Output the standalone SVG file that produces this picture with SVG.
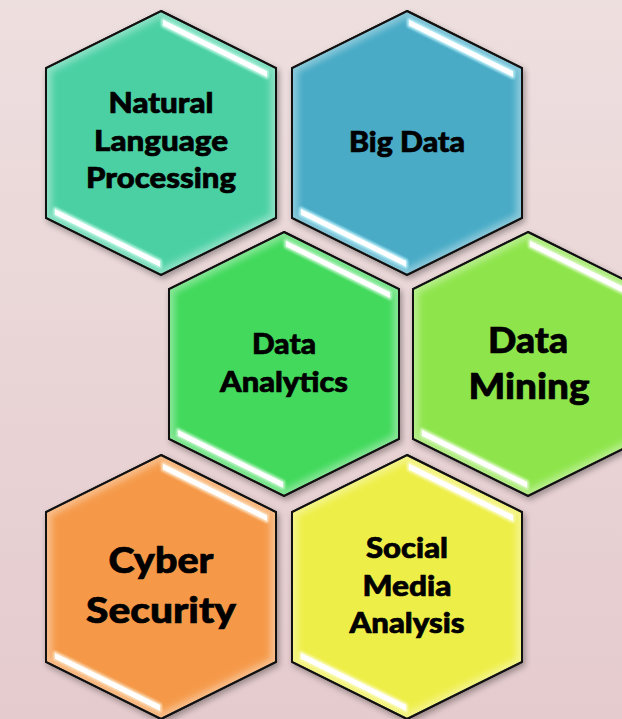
<svg xmlns="http://www.w3.org/2000/svg" width="622" height="719" viewBox="0 0 622 719">
<defs>
  <linearGradient id="bg" x1="0" y1="0" x2="0" y2="1">
    <stop offset="0" stop-color="#EEDFDF"/>
    <stop offset="1" stop-color="#E5CBCD"/>
  </linearGradient>
  <filter id="shadow" x="-20%" y="-20%" width="140%" height="140%">
    <feDropShadow dx="2" dy="3" stdDeviation="3" flood-color="#000" flood-opacity="0.35"/>
  </filter>
  <filter id="soft" x="-20%" y="-20%" width="140%" height="140%">
    <feGaussianBlur stdDeviation="3"/>
  </filter>
  <filter id="glow" x="-20%" y="-50%" width="140%" height="200%">
    <feGaussianBlur stdDeviation="1.2"/>
  </filter>
  <clipPath id="hexclip">
    <polygon points="0,0 115,57 115,207 0,264 -115,207 -115,57"/>
  </clipPath>
  <polygon id="hexshape" points="0,0 115,57 115,207 0,264 -115,207 -115,57"/>
  <polygon id="hlTop" points="2,8.8 106,60.3 106,65.9 2,14.4"/>
  <polygon id="hlBot" points="-106,203.7 -1,255.7 -1,250.1 -106,198.1"/>
</defs>
<style>
  .hex { stroke: #111; stroke-width: 2; stroke-linejoin: miter; }
  .bevel { fill: none; stroke: #fff; stroke-opacity: 0.35; stroke-width: 12; }
  .hl { fill: #fff; }
  .hlg { stroke-width: 4; stroke-linejoin: round; }
  .lbl { font-family: Lato, "Open Sans", "Liberation Sans", sans-serif; font-weight: 900; fill: #000; stroke: #000; stroke-width: 0.7; text-anchor: middle; }
  .s { font-size: 29px; }
  .l { font-size: 36px; }
</style>
<rect width="622" height="719" fill="url(#bg)"/>

<g id="nlp" transform="translate(161,11)">
  <use href="#hexshape" class="hex" fill="#4CD0A4" filter="url(#shadow)"/>
  <use href="#hexshape" class="bevel" clip-path="url(#hexclip)" filter="url(#soft)"/>
  <use href="#hlTop" class="hlg" fill="#B8F5E0" stroke="#B8F5E0" filter="url(#glow)"/>
  <use href="#hlBot" class="hlg" fill="#B8F5E0" stroke="#B8F5E0" filter="url(#glow)"/>
  <use href="#hlTop" class="hl"/>
  <use href="#hlBot" class="hl"/>
  <use href="#hexshape" class="hex" fill="none"/>
  <text class="lbl s" x="0" y="102" textLength="105" lengthAdjust="spacingAndGlyphs">Natural</text>
  <text class="lbl s" x="0" y="140" textLength="134" lengthAdjust="spacingAndGlyphs">Language</text>
  <text class="lbl s" x="0" y="177" textLength="150" lengthAdjust="spacingAndGlyphs">Processing</text>
</g>

<g id="bigdata" transform="translate(407,11)">
  <use href="#hexshape" class="hex" fill="#4AABC6" filter="url(#shadow)"/>
  <use href="#hexshape" class="bevel" clip-path="url(#hexclip)" filter="url(#soft)"/>
  <use href="#hlTop" class="hlg" fill="#B5ECF8" stroke="#B5ECF8" filter="url(#glow)"/>
  <use href="#hlBot" class="hlg" fill="#B5ECF8" stroke="#B5ECF8" filter="url(#glow)"/>
  <use href="#hlTop" class="hl"/>
  <use href="#hlBot" class="hl"/>
  <use href="#hexshape" class="hex" fill="none"/>
  <text class="lbl s" x="0" y="141" textLength="116" lengthAdjust="spacingAndGlyphs">Big Data</text>
</g>

<g id="analytics" transform="translate(284,232)">
  <use href="#hexshape" class="hex" fill="#43D95B" filter="url(#shadow)"/>
  <use href="#hexshape" class="bevel" clip-path="url(#hexclip)" filter="url(#soft)"/>
  <use href="#hlTop" class="hlg" fill="#B8F5C2" stroke="#B8F5C2" filter="url(#glow)"/>
  <use href="#hlBot" class="hlg" fill="#B8F5C2" stroke="#B8F5C2" filter="url(#glow)"/>
  <use href="#hlTop" class="hl"/>
  <use href="#hlBot" class="hl"/>
  <use href="#hexshape" class="hex" fill="none"/>
  <text class="lbl s" x="0" y="122" textLength="64" lengthAdjust="spacingAndGlyphs">Data</text>
  <text class="lbl s" x="0" y="160" textLength="128" lengthAdjust="spacingAndGlyphs">Analytics</text>
</g>

<g id="mining" transform="translate(528,232)">
  <use href="#hexshape" class="hex" fill="#8EE54B" filter="url(#shadow)"/>
  <use href="#hexshape" class="bevel" clip-path="url(#hexclip)" filter="url(#soft)"/>
  <use href="#hlTop" class="hlg" fill="#D8F8BE" stroke="#D8F8BE" filter="url(#glow)"/>
  <use href="#hlBot" class="hlg" fill="#D8F8BE" stroke="#D8F8BE" filter="url(#glow)"/>
  <use href="#hlTop" class="hl"/>
  <use href="#hlBot" class="hl"/>
  <use href="#hexshape" class="hex" fill="none"/>
  <text class="lbl l" x="0" y="121" textLength="80" lengthAdjust="spacingAndGlyphs">Data</text>
  <text class="lbl l" x="1" y="167" textLength="121" lengthAdjust="spacingAndGlyphs">Mining</text>
</g>

<g id="cyber" transform="translate(161,455)">
  <use href="#hexshape" class="hex" fill="#F5994A" filter="url(#shadow)"/>
  <use href="#hexshape" class="bevel" clip-path="url(#hexclip)" filter="url(#soft)"/>
  <use href="#hlTop" class="hlg" fill="#FDDDB8" stroke="#FDDDB8" filter="url(#glow)"/>
  <use href="#hlBot" class="hlg" fill="#FDDDB8" stroke="#FDDDB8" filter="url(#glow)"/>
  <use href="#hlTop" class="hl"/>
  <use href="#hlBot" class="hl"/>
  <use href="#hexshape" class="hex" fill="none"/>
  <text class="lbl l" x="0" y="118" textLength="105" lengthAdjust="spacingAndGlyphs">Cyber</text>
  <text class="lbl l" x="0" y="168" textLength="150" lengthAdjust="spacingAndGlyphs">Security</text>
</g>

<g id="social" transform="translate(407,455)">
  <use href="#hexshape" class="hex" fill="#EEEE48" filter="url(#shadow)"/>
  <use href="#hexshape" class="bevel" clip-path="url(#hexclip)" filter="url(#soft)"/>
  <use href="#hlTop" class="hlg" fill="#FAFAB8" stroke="#FAFAB8" filter="url(#glow)"/>
  <use href="#hlBot" class="hlg" fill="#FAFAB8" stroke="#FAFAB8" filter="url(#glow)"/>
  <use href="#hlTop" class="hl"/>
  <use href="#hlBot" class="hl"/>
  <use href="#hexshape" class="hex" fill="none"/>
  <text class="lbl s" x="0" y="103" textLength="82" lengthAdjust="spacingAndGlyphs">Social</text>
  <text class="lbl s" x="0" y="141" textLength="89" lengthAdjust="spacingAndGlyphs">Media</text>
  <text class="lbl s" x="0" y="178" textLength="115" lengthAdjust="spacingAndGlyphs">Analysis</text>
</g>

<g id="connectors"></g>
</svg>
